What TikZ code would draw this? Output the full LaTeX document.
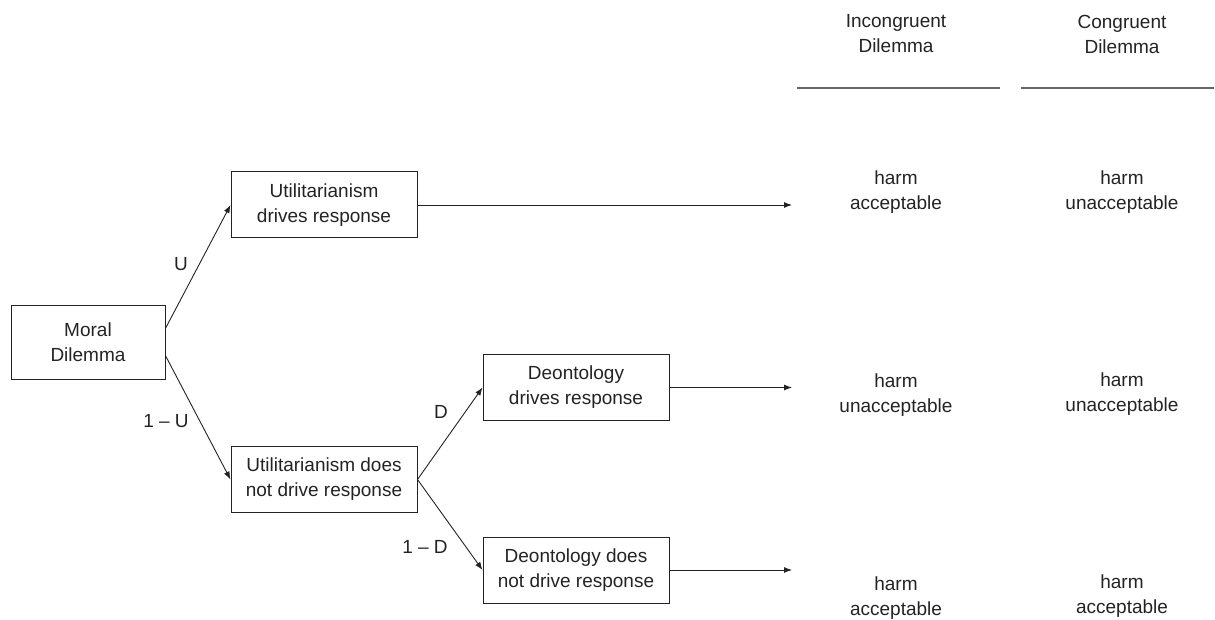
\documentclass[tikz,border=0pt]{standalone}
\usepackage{fontspec}
\setmainfont{Liberation Sans}
\usetikzlibrary{arrows.meta, calc}
\definecolor{inkgray}{RGB}{35,35,35}
\tikzset{branch/.style = {draw=inkgray, line width=0.9pt, -{Latex[length=8pt,width=6pt]}}}
\tikzset{decision/.style = {draw=inkgray, line width=1pt, align=center, inner sep=0pt, minimum width=186, minimum height=66}}
\tikzset{outcome/.style = {align=center, inner sep=0pt}}

\begin{document}
\begin{tikzpicture}[x=1pt, y=-1pt, text=inkgray, font=\fontsize{19pt}{25pt}\selectfont]
	\useasboundingbox (0,0) rectangle (1215,620);
	\coordinate (tip) at (792,0);
	
	\node[decision, minimum width=154, minimum height=74] (md) at (88,342) {Moral\\Dilemma};
	\node[decision] (udr)	at (324,205)	{Utilitarianism\\drives response};
	\node[decision] (udnr)	at (324,479.5)	{Utilitarianism does\\not drive response};
	\node[decision] (ddr)	at (576,387.5)	{Deontology\\drives response};
	\node[decision] (ddnr)	at (576,570)	{Deontology does\\not drive response};
	
	\draw[branch]	(md.10) -- (udr.west);
	\draw[branch]	(md.-10) -- (udnr.west);
	\draw[branch]	(udnr.east) -- (ddr.west);
	\draw[branch]	(udnr.east) -- (ddnr.west);
	\draw[branch]	(udr.east) -- (udr.east -| tip);
	\draw[branch]	(ddr.east) -- (ddr.east -| tip);
	\draw[branch]	(ddnr.east) -- (ddnr.east -| tip);
	
	\node (pu)	at (181,264)	{U};
	\node (pnu)	at (166,421)	{1 -- U};
	\node (pd)	at (441,412)	{D};
	\node (pnd)	at (425,547)	{1 -- D};
	
	% column heads
	\node[outcome] (hinc)	at (896,34)	{Incongruent\\Dilemma};
	\node[outcome] (hcon)	at (1122,34)	{Congruent\\Dilemma};
	\draw[draw=black!60, line width=2.2pt]	(797,88) -- (1000,88);
	\draw[draw=black!60, line width=2.2pt]	(1021,88) -- (1214,88);
	
	\node[outcome] (i1)	at (896,192)	{harm\\acceptable};
	\node[outcome] (c1)	at (1122,192)	{harm\\unacceptable};
	\node[outcome] (i2)	at (896,395)	{harm\\unacceptable};
	\node[outcome] (c2)	at (1122,394)	{harm\\unacceptable};
	\node[outcome] (i3)	at (896,598)	{harm\\acceptable};
	\node[outcome] (c3)	at (1122,596)	{harm\\acceptable};
\end{tikzpicture}
\end{document}
